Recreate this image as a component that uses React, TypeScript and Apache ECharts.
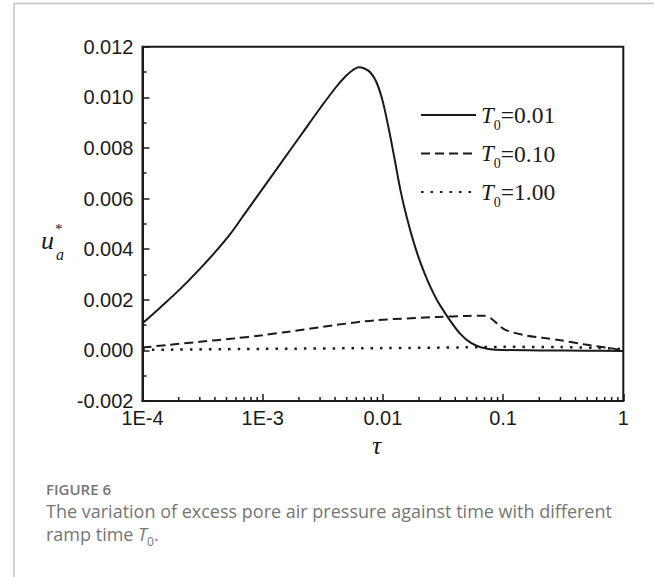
import React, { useEffect, useRef } from "react";
import * as echarts from "echarts";

// ---- data (tau, u*_a) ----
const SOLID_T = [
  1e-4, 1.399e-4, 2.054e-4, 3.014e-4, 4.019e-4, 5.36e-4, 7.15e-4, 9.53e-4,
  1.399e-3, 2.054e-3, 3.014e-3, 4.019e-3, 4.87e-3, 5.57e-3, 6.28e-3,
  7.013e-3, 7.868e-3, 8.83e-3, 9.9e-3, 1.111e-2, 1.247e-2, 1.399e-2, 1.57e-2,
  1.762e-2, 1.977e-2, 2.218e-2, 2.489e-2, 2.793e-2, 3.133e-2, 3.652e-2,
  4.424e-2, 5.36e-2, 6.494e-2, 8.66e-2, 0.2, 0.5, 1,
];
const SOLID_U = [
  1.071e-3, 1.688e-3, 2.42e-3, 3.231e-3, 3.883e-3, 4.595e-3, 5.425e-3, 6.255e-3,
  7.363e-3, 8.47e-3, 9.577e-3, 10.368e-3, 10.823e-3, 11.06e-3, 11.19e-3,
  11.139e-3, 10.981e-3, 10.605e-3, 9.893e-3, 8.826e-3, 7.6e-3, 6.334e-3, 5.306e-3,
  4.437e-3, 3.685e-3, 3.053e-3, 2.499e-3, 2.024e-3, 1.629e-3, 1.155e-3,
  0.641e-3, 0.304e-3, 0.127e-3, 0.024e-3, 0.0, -0.01e-3, -0.02e-3,
];

const DASH_T = [1e-4, 1.58e-4, 3.01e-4, 5.71e-4, 1.0e-3, 1.59e-3, 4.0e-3, 8.66e-3, 0.0287, 0.05, 0.07, 0.08, 0.1025, 0.158, 0.212, 0.3, 0.47, 0.83, 1];
const DASH_U = [0.11e-3, 0.21e-3, 0.34e-3, 0.47e-3, 0.6e-3, 0.73e-3, 1.0e-3, 1.19e-3, 1.32e-3, 1.36e-3, 1.37e-3, 1.25e-3, 0.83e-3, 0.58e-3, 0.5e-3, 0.4e-3, 0.24e-3, 0.07e-3, 0.0];

const DOT_T = [1e-4, 1e-3, 0.01, 0.05, 0.1, 0.3, 0.6, 1];
const DOT_U = [0.02e-3, 0.06e-3, 0.09e-3, 0.12e-3, 0.14e-3, 0.13e-3, 0.1e-3, 0.05e-3];

const SERIES_NAMES = ["T0=0.01", "T0=0.10", "T0=1.00"];

// ---- axes ----
const X_TICKS = [1e-4, 1e-3, 0.01, 0.1, 1];
const X_TICK_LABELS = ["1E-4", "1E-3", "0.01", "0.1", "1"];
const X_MINOR_TICKS = [
  2e-4, 3e-4, 4e-4, 5e-4, 6e-4, 7e-4, 8e-4, 9e-4,
  2e-3, 3e-3, 4e-3, 5e-3, 6e-3, 7e-3, 8e-3, 9e-3,
  0.02, 0.03, 0.04, 0.05, 0.06, 0.07, 0.08, 0.09,
  0.2, 0.3, 0.4, 0.5, 0.6, 0.7, 0.8, 0.9,
];
const Y_MIN = -0.002;
const Y_MAX = 0.012;
const Y_STEP = 0.002;

const CAPTION_TITLE = "FIGURE 6";
const CAPTION_LINE1 = "The variation of excess pore air pressure against time with different";
const CAPTION_LINE2_PRE = "ramp time ";

const INK = "#1a1a1a";
const SERIF = "'Liberation Serif', 'DejaVu Serif', serif";
const SANS = "'Liberation Sans', Arial, sans-serif";
const CAP_FONT = "'Open Sans', 'Noto Sans', sans-serif";
const CAP_COLOR = "#767676";

function zip(xs: number[], ys: number[]) {
  return xs.map((x, i) => [x, ys[i]]);
}

export default function App() {
  const ref = useRef<HTMLDivElement>(null);

  useEffect(() => {
    document.body.style.margin = "0";
    if (!ref.current) return;
    const chart = echarts.init(ref.current, undefined, { renderer: "svg" });

    const lineBase = {
      type: "line" as const,
      showSymbol: false,
      symbol: "none",
      z: 3,
    };

    chart.setOption({
      animation: false,
      backgroundColor: "#ffffff",
      grid: {
        left: 142.5,
        top: 46.7,
        right: 654 - 623.3,
        bottom: 577 - 401,
        show: true,
        borderColor: INK,
        borderWidth: 2,
        backgroundColor: "transparent",
      },
      xAxis: {
        type: "log",
        logBase: 10,
        min: 1e-4,
        max: 1,
        splitNumber: 4,
        axisLine: { show: true, onZero: false, lineStyle: { color: INK, width: 2 } },
        axisTick: { show: true, inside: true, length: 7, lineStyle: { color: INK, width: 1.5 } },
        splitLine: { show: false },
        axisLabel: {
          fontFamily: SANS,
          fontSize: 20,
          color: INK,
          margin: 7,
          formatter: (v: number) => {
            const i = X_TICKS.findIndex((t) => Math.abs(Math.log10(t) - Math.log10(v)) < 1e-6);
            return i >= 0 ? X_TICK_LABELS[i] : "";
          },
        },
      },
      yAxis: {
        type: "value",
        min: Y_MIN,
        max: Y_MAX,
        interval: Y_STEP,
        axisLine: { show: true, onZero: false, lineStyle: { color: INK, width: 2 } },
        axisTick: { show: true, inside: true, length: 7, lineStyle: { color: INK, width: 1.5 } },
        minorTick: { show: true, splitNumber: 2, length: 4, lineStyle: { color: INK, width: 1.5 } },
        splitLine: { show: false },
        minorSplitLine: { show: false },
        axisLabel: {
          fontFamily: SANS,
          fontSize: 20,
          color: INK,
          margin: 9,
          formatter: (v: number) => v.toFixed(3),
        },
      },
      legend: {
        data: SERIES_NAMES,
        orient: "vertical",
        left: 420,
        top: 103,
        itemWidth: 55,
        itemHeight: 14,
        itemGap: 9.5,
        padding: 0,
        selectedMode: false,
        itemStyle: { color: "transparent", borderColor: "transparent", borderWidth: 0, opacity: 0 },
        formatter: (name: string) => `{t|T}{s|0}{v|=${name.split("=")[1]}}`,
        textStyle: {
          color: INK,
          rich: {
            t: { fontFamily: SERIF, fontStyle: "italic", fontSize: 23, lineHeight: 34, verticalAlign: "middle", color: INK },
            s: { fontFamily: SERIF, fontSize: 14, lineHeight: 14, verticalAlign: "bottom", color: INK },
            v: { fontFamily: SERIF, fontSize: 23.5, lineHeight: 34, verticalAlign: "middle", color: INK },
          },
        },
      },
      series: [
        {
          ...lineBase,
          name: SERIES_NAMES[0],
          smooth: 0.35,
          data: zip(SOLID_T, SOLID_U),
          lineStyle: { color: INK, width: 2, type: "solid" },
          itemStyle: { color: INK },
        },
        {
          ...lineBase,
          name: SERIES_NAMES[1],
          smooth: 0.3,
          data: zip(DASH_T, DASH_U),
          lineStyle: { color: INK, width: 2, type: [9, 5] },
          itemStyle: { color: INK },
        },
        {
          ...lineBase,
          name: SERIES_NAMES[2],
          smooth: 0.3,
          data: zip(DOT_T, DOT_U),
          lineStyle: { color: INK, width: 2.5, type: [2.5, 7] },
          itemStyle: { color: INK },
        },
        {
          type: "custom",
          name: "minorTicks",
          silent: true,
          clip: false,
          z: 5,
          data: X_MINOR_TICKS.map((v) => [v, Y_MIN]),
          renderItem: (_params: any, api: any) => {
            const p = api.coord([api.value(0), api.value(1)]);
            return {
              type: "line",
              shape: { x1: p[0], y1: p[1], x2: p[0], y2: p[1] - 4 },
              style: { stroke: INK, lineWidth: 1.5 },
            };
          },
        },
      ],
      graphic: [
        {
          type: "polyline",
          silent: true,
          shape: { points: [[14, 577], [14, 3.5], [654, 3.5]] },
          style: { stroke: "#c4c4c4", lineWidth: 1.5, fill: "none" },
        },
        {
          type: "text",
          left: 372,
          top: 432,
          style: { text: "τ", fontFamily: SERIF, fontStyle: "italic", fontSize: 26, fill: INK },
        },
        {
          type: "text",
          left: 41,
          top: 227,
          style: { text: "u", fontFamily: SERIF, fontStyle: "italic", fontSize: 26, fill: INK },
        },
        {
          type: "text",
          left: 55,
          top: 221,
          style: { text: "*", fontFamily: SERIF, fontSize: 15, fill: INK },
        },
        {
          type: "text",
          left: 56,
          top: 246,
          style: { text: "a", fontFamily: SERIF, fontStyle: "italic", fontSize: 16, fill: INK },
        },
        {
          type: "text",
          left: 46,
          top: 481,
          style: { text: CAPTION_TITLE, fontFamily: CAP_FONT, fontWeight: 600, fontSize: 15, fill: CAP_COLOR },
        },
        {
          type: "text",
          left: 46,
          top: 502,
          style: { text: CAPTION_LINE1, fontFamily: CAP_FONT, fontSize: 18, fill: CAP_COLOR },
        },
        {
          type: "text",
          left: 46,
          top: 525,
          style: {
            text: `{r|${CAPTION_LINE2_PRE}}{i|T}{s|0}{r|.}`,
            rich: {
              r: { fontFamily: CAP_FONT, fontSize: 18, lineHeight: 26, verticalAlign: "middle", fill: CAP_COLOR, color: CAP_COLOR },
              i: { fontFamily: CAP_FONT, fontStyle: "italic", fontSize: 18, lineHeight: 26, verticalAlign: "middle", fill: CAP_COLOR, color: CAP_COLOR },
              s: { fontFamily: CAP_FONT, fontSize: 12, lineHeight: 12, verticalAlign: "bottom", fill: CAP_COLOR, color: CAP_COLOR },
            },
          },
        },
      ],
    });

    return () => {
      chart.dispose();
    };
  }, []);

  return <div ref={ref} style={{ width: 654, height: 577 }} />;
}
